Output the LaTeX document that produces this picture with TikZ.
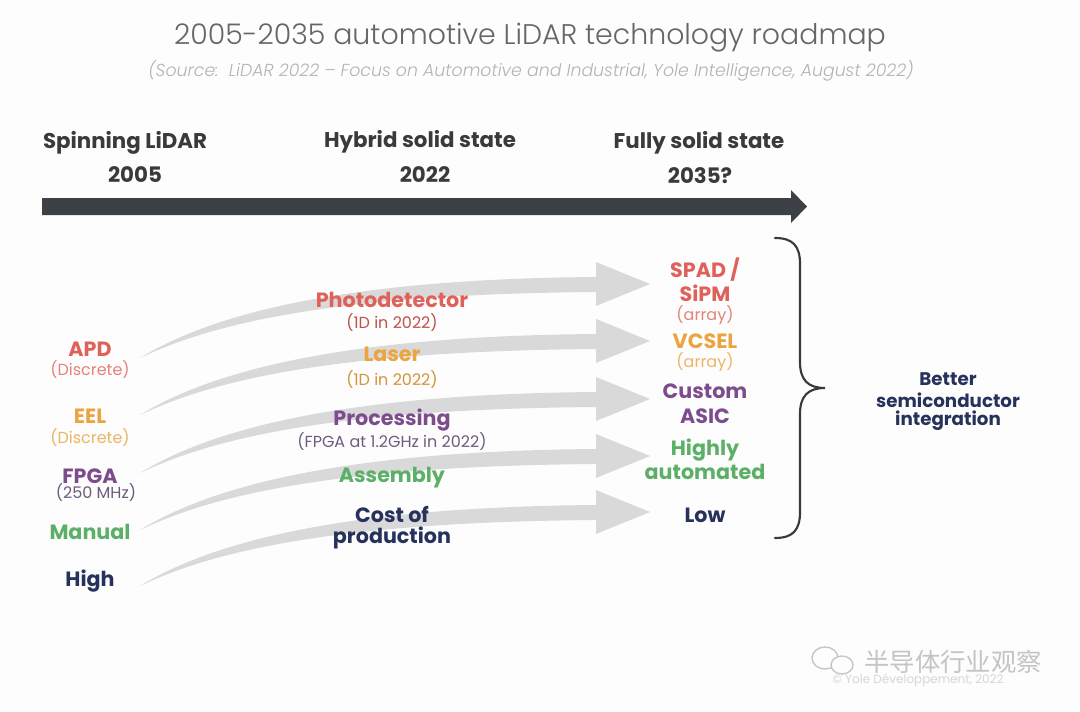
\documentclass[tikz,border=0pt]{standalone}
\usepackage{fontspec}
\setmainfont{Poppins}
\newfontfamily\lightfont{Poppins Light}
\newfontfamily\cjk{Noto Sans CJK SC}
\definecolor{bg}{HTML}{FDFDFD}
\definecolor{titlegray}{HTML}{666666}
\definecolor{subgray}{HTML}{B3B3B3}
\definecolor{headgray}{HTML}{3A3A3A}
\definecolor{bardark}{HTML}{3D4045}
\definecolor{arrowgray}{HTML}{D9D9D9}
\definecolor{cred}{HTML}{E0605A}
\definecolor{cred2}{HTML}{E5837A}
\definecolor{corange}{HTML}{EBA440}
\definecolor{corange2}{HTML}{EDB464}
\definecolor{cpurple}{HTML}{7D4C8C}
\definecolor{cpurple2}{HTML}{6F5C7D}
\definecolor{cgreen}{HTML}{5CAF66}
\definecolor{cnavy}{HTML}{27325C}
\definecolor{wm}{HTML}{C4C4C4}
\begin{document}
\begin{tikzpicture}[x=0.75pt,y=-0.75pt,
  lbl/.style={font=\bfseries\fontsize{15.5}{18}\selectfont, inner sep=0pt},
  sublbl/.style={font=\fontsize{12}{14}\selectfont, inner sep=0pt},
  hdr/.style={font=\bfseries\fontsize{16}{19}\selectfont, text=headgray, inner sep=0pt},
  flow/.style={fill=arrowgray, draw=none}]
\fill[bg] (0,0) rectangle (1080,711);
\useasboundingbox (0,0) rectangle (1080,711);
% title
\node[font=\lightfont\fontsize{21.3}{24}\selectfont, text=titlegray, inner sep=0pt] (title) at (530,38) {2005-2035 automotive LiDAR technology roadmap};
\node[font=\lightfont\itshape\fontsize{13}{15}\selectfont, text=subgray, inner sep=0pt] (src) at (531,71) {(Source:\ \ LiDAR 2022 – Focus on Automotive and Industrial, Yole Intelligence, August 2022)};
% headers
\node[hdr] (h1) at (125,143) {Spinning LiDAR};
\node[hdr] (y1) at (135,175) {2005};
\node[hdr] (h2) at (420,142) {Hybrid solid state};
\node[hdr] (y2) at (425,175) {2022};
\node[hdr] (h3) at (699,143) {Fully solid state};
\node[hdr] (y3) at (700,176) {2035?};
% timeline
\fill[bardark] (42,198) -- (791,198) -- (791,190) -- (807,206.5) -- (791,223) -- (791,215) -- (42,215) -- cycle;
% flow arrows
\foreach \dy in {0,57,115,172,228}{
  \fill[flow, shift={(0,\dy)}] (140,358) .. controls (205,318) and (330,279) .. (596,277) -- (596,262) -- (650,284) -- (596,306) -- (596,292) .. controls (340,294) and (215,322) .. (140,358) -- cycle;
}
% left labels
\node[lbl, text=cred] (apd) at (90,349) {APD};
\node[sublbl, text=cred2] (apds) at (90,370) {(Discrete)};
\node[lbl, text=corange] (eel) at (90,416) {EEL};
\node[sublbl, text=corange2] (eels) at (90,438) {(Discrete)};
\node[lbl, text=cpurple] (fpga) at (90,476) {FPGA};
\node[sublbl, text=cpurple2] (fpgas) at (96,493) {(250 MHz)};
\node[lbl, text=cgreen] (manual) at (90,532) {Manual};
\node[lbl, text=cnavy] (high) at (90,581) {High};
% middle labels
\node[lbl, text=cred] (photo) at (392,300) {Photodetector};
\node[sublbl, text=cred!85!black] (photos) at (392,323) {(1D in 2022)};
\node[lbl, text=corange] (laser) at (392,354) {Laser};
\node[sublbl, text=corange!90!black] (lasers) at (392,380) {(1D in 2022)};
\node[lbl, text=cpurple] (proc) at (392,420) {Processing};
\node[sublbl, text=cpurple2] (procs) at (392,442) {(FPGA at 1.2GHz in 2022)};
\node[lbl, text=cgreen] (asm) at (392,478) {Assembly};
\node[lbl, text=cnavy] (cost1) at (392,514) {Cost of};
\node[lbl, text=cnavy] (cost2) at (392,538) {production};
% right labels
\node[lbl, text=cred] (spad) at (705,270) {SPAD /};
\node[lbl, text=cred] (sipm) at (705,293) {SiPM};
\node[sublbl, text=cred2] (arr1) at (705,315) {(array)};
\node[lbl, text=corange] (vcsel) at (705,341) {VCSEL};
\node[sublbl, text=corange2] (arr2) at (705,362) {(array)};
\node[lbl, text=cpurple] (cust) at (705,391) {Custom};
\node[lbl, text=cpurple] (asic) at (705,416) {ASIC};
\node[lbl, text=cgreen] (highly) at (705,450) {Highly};
\node[lbl, text=cgreen] (auto) at (705,472) {automated};
\node[lbl, text=cnavy] (low) at (705,515) {Low};
% brace
\draw[headgray, line width=1.6pt, line cap=round] (775,238) .. controls (793,238) and (800,246) .. (800,264) -- (800,362) .. controls (800,380) and (808,388) .. (825,388) .. controls (808,388) and (800,396) .. (800,414) -- (800,512) .. controls (800,530) and (793,538) .. (775,538);
\coordinate (bracetip) at (825,388);
\node[font=\bfseries\fontsize{13.7}{16}\selectfont, text=cnavy, inner sep=0pt] (b1) at (948,379) {Better};
\node[font=\bfseries\fontsize{13.7}{16}\selectfont, text=cnavy, inner sep=0pt] (b2) at (948,400) {semiconductor};
\node[font=\bfseries\fontsize{13.7}{16}\selectfont, text=cnavy, inner sep=0pt] (b3) at (948,421) {integration};
% watermark
\node[font=\fontsize{9}{10}\selectfont, text=wm!70!white, inner sep=0pt] (yole) at (918,680) {\textcopyright\ Yole Développement, 2022};
\draw[wm, line width=1pt, fill=bg] (825,658) ellipse [x radius=13, y radius=11];
\draw[wm, line width=1pt, fill=bg] (842,665) ellipse [x radius=11, y radius=9];
\node[font=\cjk\fontsize{19}{21}\selectfont, text=wm, inner sep=0pt] (wx) at (953,662) {半导体行业观察};
\end{tikzpicture}
\end{document}
